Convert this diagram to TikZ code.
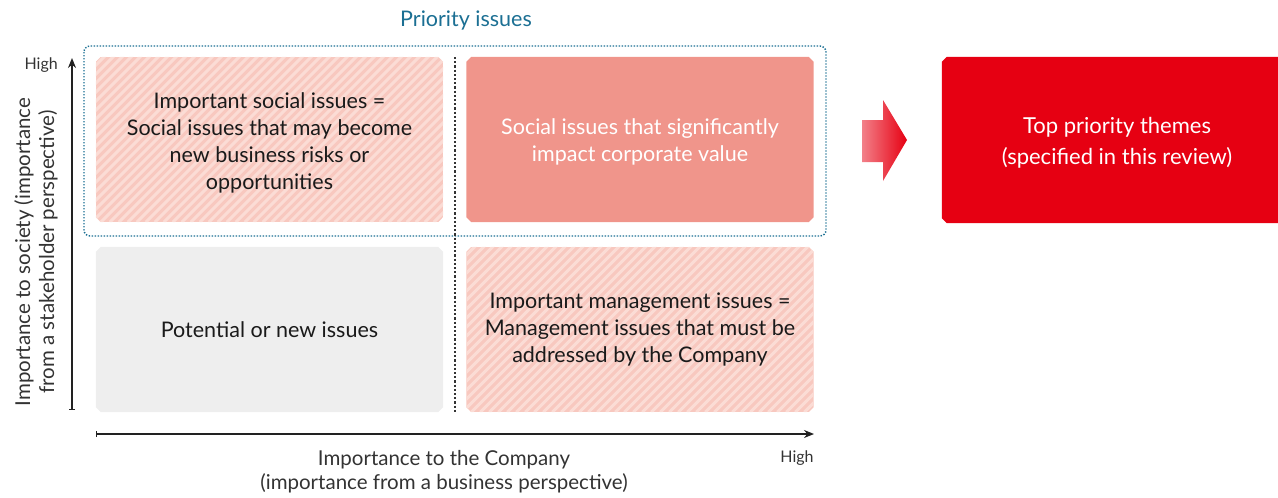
\documentclass[tikz,border=0pt]{standalone}
\usepackage{fontspec}
\setmainfont{Lato}
\usetikzlibrary{arrows.meta}
\definecolor{teal1}{HTML}{1B6F93}
\definecolor{hbase}{HTML}{F8C8BF}
\definecolor{hline}{HTML}{FBDCD5}
\definecolor{salmonb}{HTML}{F0958B}
\definecolor{grayb}{HTML}{EEEEEE}
\definecolor{red1}{HTML}{E60012}
\definecolor{txt}{HTML}{1A1A1A}
\definecolor{axisc}{HTML}{222222}
\definecolor{labc}{HTML}{333333}
\newcommand\champath[1]{([xshift=5pt]#1.north west) -- ([xshift=-5pt]#1.north east) -- ([yshift=-5pt]#1.north east) -- ([yshift=5pt]#1.south east) -- ([xshift=-5pt]#1.south east) -- ([xshift=5pt]#1.south west) -- ([yshift=5pt]#1.south west) -- ([yshift=-5pt]#1.north west) -- cycle}
\newcommand\hatchfill[1]{%
  \begin{scope}
    \path[clip] \champath{#1};
    \fill[hbase] (#1.north west) rectangle (#1.south east);
    \foreach \k in {0,...,62}
      \draw[hline, line width=3pt] ([xshift={\k*9-175}]#1.south west) -- ++(175,-175);
  \end{scope}}
\begin{document}
\begin{tikzpicture}[x=1pt,y=-1pt,
  boxarea/.style={rectangle, inner sep=0pt, minimum width=347pt, minimum height=165pt, draw=none},
  boxtext/.style={align=center, font=\fontsize{21.5}{27}\selectfont, text=txt},
  smalllab/.style={font=\fontsize{16}{18}\selectfont, text=labc},
  axislab/.style={align=center, font=\fontsize{20.5}{24}\selectfont, text=labc},
  axisline/.style={line width=1.2pt, draw=axisc, {Bar[width=6pt]}-{Stealth[length=10pt,width=8pt]}}
]
\useasboundingbox (0,0) rectangle (1278,498);
% title
\node[font=\fontsize{21.5}{24}\selectfont, text=teal1] (title) at (466,20) {Priority issues};
% boxes
\node[boxarea] (b1) at (269.5,139.5) {};
\node[boxarea] (b2) at (640,139.5) {};
\node[boxarea] (b3) at (269.5,329.5) {};
\node[boxarea] (b4) at (640,329.5) {};
\hatchfill{b1}
\fill[salmonb] \champath{b2};
\fill[grayb] \champath{b3};
\hatchfill{b4}
\node[boxtext] (t1) at ([yshift=-3pt]b1.center) {Important social issues =\\Social issues that may become\\new business risks or\\opportunities};
\node[boxtext, text=white] (t2) at ([yshift=-2pt]b2.center) {Social issues that significantly\\impact corporate value};
\node[boxtext] (t3) at (b3.center) {Potential or new issues};
\node[boxtext] (t4) at (b4.center) {Important management issues =\\Management issues that must be\\addressed by the Company};
% dotted priority frame
\draw[teal1, line width=1.4pt, dash pattern=on 1.4pt off 1.6pt, rounded corners=6pt] (84,46) rectangle (826,236);
% vertical divider
\coordinate (dvt) at (455,57);
\coordinate (dvb) at (455,412);
\draw[draw=labc, line width=1.1pt, dash pattern=on 2.2pt off 2pt] (dvt) -- (dvb);
% axes
\coordinate (y0) at (72,410);
\coordinate (y1) at (72,58);
\draw[axisline] (y0) -- (y1);
\coordinate (x0) at (96,434);
\coordinate (x1) at (814,434);
\draw[axisline] (x0) -- (x1);
\node[smalllab, anchor=east, inner sep=0pt] (yhigh) at (58,65) {High};
\node[smalllab] (xhigh) at (797,458) {High};
\node[axislab, rotate=90] (ylab) at (36,252) {Importance to society (importance\\from a stakeholder perspective)};
\node[axislab] (xlab) at (444,472) {Importance to the Company\\(importance from a business perspective)};
% gradient arrow
\shade[left color=red1!50!white, right color=red1] (862,120) -- (883,120) -- (883,100) -- (907,140) -- (883,181) -- (883,162) -- (862,162) -- cycle;
% top priority box
\node[rectangle, inner sep=0pt, minimum width=370pt, minimum height=166pt] (top) at (1127,140) {};
\fill[red1] \champath{top};
\node[align=center, font=\fontsize{22}{31}\selectfont, text=white] (ttop) at (1117,143) {Top priority themes\\(specified in this review)};
\end{tikzpicture}
\end{document}
